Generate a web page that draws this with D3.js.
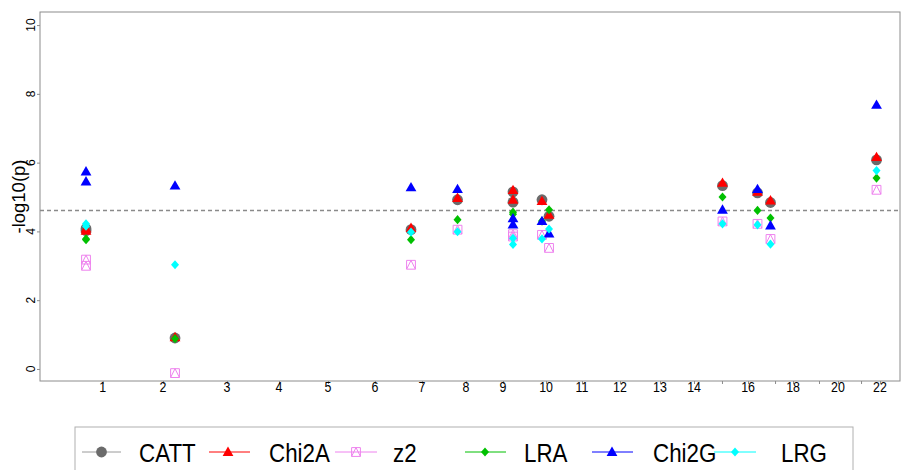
<!DOCTYPE html>
<html>
<head>
<meta charset="utf-8">
<script src="https://cdn.jsdelivr.net/npm/d3@7"></script>
<style>
  html, body { margin: 0; padding: 0; background: #fff; }
  svg { display: block; font-family: "Liberation Sans", Arial, sans-serif; }
</style>
</head>
<body>
<svg id="chart" width="902" height="470"></svg>
<script>
// Chromosome axis: tick centres on the genome-index scale (0-1000)
const chromTicks = [72.9, 143.0, 217.4, 277.9, 334.9, 389.5, 444.2, 495.3, 538.4, 588.4, 630.2,
                    674.4, 720.9, 760.5, 793.0, 823.3, 854.7, 875.6, 905.8, 927.9, 954.7, 976.7];
const chromLabels = ["1", "2", "3", "4", "5", "6", "7", "8", "9", "10", "11",
                     "12", "13", "14", "", "16", "", "18", "", "20", "", "22"];

// SNPs: chromosome and genome-index position
const snpChrom = [1, 1, 2, 7, 8, 9, 9, 10, 10, 15, 16, 17, 22];
const snpPos   = [53.5, 53.5, 157.0, 431.4, 485.5, 550.0, 550.0, 583.7, 591.9, 793.6, 834.3, 849.4, 972.7];

// -log10(p) per test
const CATT  = [4.08, 4.02, 0.90, 4.05, 4.92, 5.15, 4.85, 4.92, 4.44, 5.33, 5.12, 4.84, 6.08];
const Chi2A = [4.08, 4.02, 0.92, 4.10, 4.97, 5.20, 4.92, 4.88, 4.48, 5.41, 5.15, 4.90, 6.16];
const z2    = [3.18, 3.00, -0.12, 3.03, 4.05, 3.92, 3.85, 3.90, 3.52, 4.29, 4.22, 3.78, 5.21];
const LRA   = [3.78, 3.76, 0.88, 3.76, 4.34, 4.56, 4.50, 4.30, 4.63, 5.00, 4.61, 4.39, 5.55];
const Chi2G = [5.74, 5.45, 5.33, 5.28, 5.23, 4.38, 4.20, 4.30, 3.94, 4.63, 5.23, 4.17, 7.68];
const LRG   = [4.22, 4.15, 3.03, 3.98, 3.99, 3.80, 3.62, 3.78, 4.07, 4.22, 4.19, 3.63, 5.77];

const yTicks = [0, 2, 4, 6, 8, 10];
const threshold = 4.61;

const seriesNames = ["CATT", "Chi2A", "z2", "LRA", "Chi2G", "LRG"];
const seriesValues = [CATT, Chi2A, z2, LRA, Chi2G, LRG];
const seriesColors = ["#6b6b6b", "#ff0000", "#ee82ee", "#00c000", "#0000ff", "#00ffff"];
const seriesShapes = ["circle", "triangle", "squareTri", "diamond", "triangle", "diamond"];
const seriesLineColors = ["#9a9a9a", "#ff0000", "#ee82ee", "#00c000", "#0000ff", "#00ffff"];

const svg = d3.select("#chart");
const plot = { left: 40, right: 900, top: 12, bottom: 381 };

const x = d3.scaleLinear().domain([0, 1000]).range([plot.left, plot.right]);
const y = d3.scaleLinear().domain([-0.35, 10.38]).range([plot.bottom, plot.top]);

// marker drawing
function drawMarker(g, shape, color, s) {
  if (shape === "circle") {
    g.append("circle").attr("r", 5.4 * s).attr("fill", color);
  } else if (shape === "triangle") {
    const w = 5.4 * s, h = 9.4 * s;
    g.append("path")
      .attr("d", `M${-w},${h * 0.42} L${w},${h * 0.42} L0,${-h * 0.58} Z`)
      .attr("fill", color);
  } else if (shape === "diamond") {
    const w = 4.0 * s, h = 4.6 * s;
    g.append("path")
      .attr("d", `M0,${-h} L${w},0 L0,${h} L${-w},0 Z`)
      .attr("fill", color);
  } else if (shape === "squareTri") {
    const a = 4.4 * s;
    g.append("path")
      .attr("d", `M${-a},${-a} L${a},${-a} L${a},${a} L${-a},${a} Z M${-a},${a} L0,${-a} L${a},${a}`)
      .attr("fill", "none").attr("stroke", color).attr("stroke-width", 1);
  }
}

// horizontally condensed text helper
function condText(parent, tx, ty, str, size, sx, anchor, rotate) {
  return parent.append("text")
    .attr("transform", `translate(${tx},${ty})` + (rotate ? ` rotate(${rotate})` : "") + ` scale(${sx},1)`)
    .attr("text-anchor", anchor || "middle")
    .attr("font-size", size)
    .attr("fill", "#000")
    .text(str);
}

// threshold line
svg.append("line")
  .attr("x1", plot.left).attr("x2", plot.right)
  .attr("y1", y(threshold)).attr("y2", y(threshold))
  .attr("stroke", "#8a8a8a").attr("stroke-width", 1.6)
  .attr("stroke-dasharray", "4,3");

// points, series drawn in legend order
seriesValues.forEach((vals, si) => {
  const gs = svg.append("g").attr("class", "series-" + seriesNames[si]);
  vals.forEach((v, i) => {
    const g = gs.append("g").attr("transform", `translate(${x(snpPos[i])},${y(v)})`);
    drawMarker(g, seriesShapes[si], seriesColors[si], 1);
  });
});

// frame
svg.append("rect")
  .attr("x", plot.left).attr("y", plot.top)
  .attr("width", plot.right - plot.left).attr("height", plot.bottom - plot.top)
  .attr("fill", "none").attr("stroke", "#8c8c8c").attr("stroke-width", 1);

// y axis
const yAxis = d3.axisLeft(y).tickValues(yTicks).tickSize(3).tickFormat("");
svg.append("g").attr("transform", `translate(${plot.left},0)`).call(yAxis)
  .call(g => g.select(".domain").remove())
  .call(g => g.selectAll(".tick line").attr("stroke", "#8c8c8c"));
yTicks.forEach(t => {
  condText(svg, 35, y(t), String(t), 12, 1, "middle", -90);
});
condText(svg, 25, (plot.top + plot.bottom) / 2, "-log10(p)", 18.5, 1, "middle", -90);

// x axis (chromosomes)
const xAxis = d3.axisBottom(x).tickValues(chromTicks).tickSize(3).tickFormat("");
svg.append("g").attr("transform", `translate(0,${plot.bottom})`).call(xAxis)
  .call(g => g.select(".domain").remove())
  .call(g => g.selectAll(".tick line").attr("stroke", "#8c8c8c"));
chromTicks.forEach((t, i) => {
  if (chromLabels[i]) condText(svg, x(t), 392, chromLabels[i], 15.5, 0.8, "middle");
});

// legend
const leg = svg.append("g");
leg.append("rect")
  .attr("x", 75).attr("y", 427).attr("width", 778).attr("height", 60)
  .attr("fill", "#fff").attr("stroke", "#b0b0b0").attr("stroke-width", 1);
const legItems = [
  { line: [82, 121], mark: 101.5, text: 139 },
  { line: [209, 250], mark: 228, text: 269 },
  { line: [335, 377], mark: 356, text: 393 },
  { line: [465, 506], mark: 485, text: 524 },
  { line: [592, 633], mark: 612, text: 653 },
  { line: [714, 756], mark: 735, text: 781 }
];
const legY = 452;
legItems.forEach((it, i) => {
  leg.append("line")
    .attr("x1", it.line[0]).attr("x2", it.line[1])
    .attr("y1", legY).attr("y2", legY)
    .attr("stroke", seriesLineColors[i]).attr("stroke-width", 1);
  const g = leg.append("g").attr("transform", `translate(${it.mark},${legY})`);
  drawMarker(g, seriesShapes[i], seriesColors[i], 1);
  condText(leg, it.text, legY + 9.5, seriesNames[i], 26, 0.86, "start");
});
</script>
</body>
</html>
